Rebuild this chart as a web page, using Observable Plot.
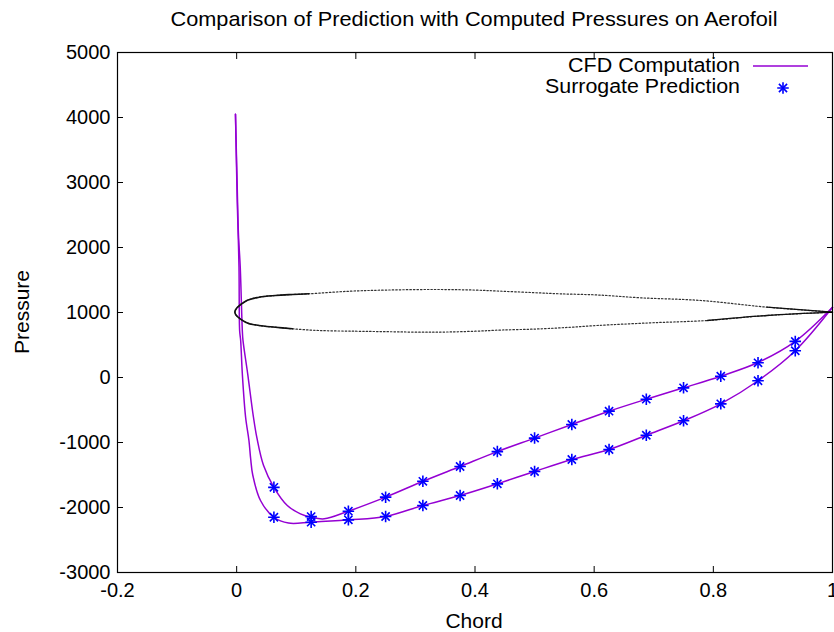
<!DOCTYPE html>
<html><head><meta charset="utf-8">
<script src="https://cdn.jsdelivr.net/npm/d3@7"></script>
<script src="https://cdn.jsdelivr.net/npm/@observablehq/plot@0.6"></script>
<style>
body{margin:0;background:#fff;font-family:"Liberation Sans",Arial,sans-serif;}
#wrap{position:relative;width:834px;height:632px;overflow:hidden;}
#wrap svg{position:absolute;left:0;top:0;}
</style></head><body><div id="wrap"></div>
<script>
// ---- data ----
const titleText = "Comparison of Prediction with Computed Pressures on Aerofoil";
const xLabel = "Chord";
const yLabel = "Pressure";
const seriesNames = ["CFD Computation", "Surrogate Prediction"];
const xTicks = [-0.2, 0, 0.2, 0.4, 0.6, 0.8, 1];
const yTicks = [-3000, -2000, -1000, 0, 1000, 2000, 3000, 4000, 5000];

// CFD pressure distribution, branch A (upper curve in the plot)
const cfdAX = [-0.002, 0.001, 0.003, 0.006, 0.0095, 0.0106, 0.0185, 0.028, 0.034, 0.045, 0.0625, 0.085, 0.107, 0.125, 0.147, 0.1875, 0.25, 0.3125, 0.375, 0.4375, 0.5, 0.5625, 0.625, 0.6875, 0.75, 0.8125, 0.875, 0.9375, 1.0];
const cfdAP = [4050, 2900, 2200, 1700, 720, 570, 57, -600, -930, -1350, -1690, -1970, -2097, -2150, -2174, -2057, -1841, -1597, -1369, -1140, -932, -723, -518, -334, -159, 20, 230, 555, 1080];
// CFD pressure distribution, branch B (lower curve in the plot)
const cfdBX = [-0.002, 0.001, 0.0039, 0.005, 0.0067, 0.0095, 0.015, 0.0206, 0.0235, 0.027, 0.04, 0.0625, 0.087, 0.125, 0.1875, 0.25, 0.3125, 0.375, 0.4375, 0.5, 0.5625, 0.625, 0.6875, 0.75, 0.8125, 0.875, 0.9375, 1.0];
const cfdBP = [4050, 2700, 1700, 720, 570, 57, -611, -969, -1250, -1500, -1892, -2150, -2240, -2226, -2190, -2138, -1969, -1815, -1636, -1446, -1262, -1108, -888, -666, -405, -50, 412, 1080];

// Surrogate predictions
const surrX = [0.0625, 0.125, 0.1875, 0.25, 0.3125, 0.375, 0.4375, 0.5, 0.5625, 0.625, 0.6875, 0.75, 0.8125, 0.875, 0.9375];
const surrAP = [-1690, -2140, -2057, -1841, -1597, -1369, -1140, -932, -723, -518, -334, -159, 20, 226, 555];
const surrBP = [-2150, -2226, -2190, -2138, -1969, -1815, -1636, -1446, -1262, -1108, -888, -666, -405, -50, 412];

// Aerofoil outline (drawn in pressure units)
const foilUpperX = [-0.003, 0.015, 0.0375, 0.065, 0.0935, 0.121, 0.191, 0.25, 0.33, 0.4, 0.443, 0.5, 0.544, 0.605, 0.678, 0.779, 0.89, 1.0];
const foilUpperP = [1005, 1174, 1235, 1262, 1277, 1288, 1328, 1345, 1354, 1345, 1328, 1305, 1287, 1270, 1226, 1185, 1082, 1005];
const foilLowerX = [0.015, 0.0375, 0.065, 0.0935, 0.138, 0.2, 0.25, 0.33, 0.4, 0.443, 0.5, 0.555, 0.605, 0.695, 0.79, 0.89, 1.0];
const foilLowerP = [851, 800, 774, 749, 723, 712, 705, 697, 712, 730, 745, 770, 800, 841, 877, 954, 1005];

// ---- tables ----
const cfd = [
  ...cfdAX.map((x, i) => ({x, p: cfdAP[i], b: "A"})),
  ...cfdBX.map((x, i) => ({x, p: cfdBP[i], b: "B"}))
];
const surr = [
  ...surrX.map((x, i) => ({x, p: surrAP[i]})),
  ...surrX.map((x, i) => ({x, p: surrBP[i]}))
];
const lowerRev = foilLowerX.map((x, i) => ({x, p: foilLowerP[i], s: "lower"})).reverse();
const upper = foilUpperX.map((x, i) => ({x, p: foilUpperP[i], s: "upper"}));
const foilLoop = [...lowerRev, ...upper];
const foilSurf = [...lowerRev, {x: foilUpperX[0], p: foilUpperP[0], s: "lower"}, ...upper];

const purple = "#9400d3";
const blue = "#0000ff";
const fontFam = "'Liberation Sans', Arial, sans-serif";
const starR = 3.8;

const chart = Plot.plot({
  width: 834, height: 632,
  marginTop: 52, marginBottom: 60, marginLeft: 117, marginRight: 2,
  x: {domain: [-0.2, 1]},
  y: {domain: [-3000, 5000]},
  style: {fontFamily: fontFam, fontSize: "20px", color: "#000", background: "transparent"},
  marks: [
    Plot.line(cfd, {x: "x", y: "p", z: "b", stroke: purple, strokeWidth: 1.5, curve: "catmull-rom"}),
    Plot.line(foilLoop, {x: "x", y: "p", stroke: "#333", strokeWidth: 1.2, strokeDasharray: "1.5 2", curve: "catmull-rom"}),
    Plot.line(foilLoop, {filter: d => d.x <= 0.13, x: "x", y: "p", stroke: "#111", strokeWidth: 1.6, curve: "catmull-rom"}),
    Plot.line(foilSurf, {filter: d => d.x >= 0.78, x: "x", y: "p", z: "s", stroke: "#111", strokeWidth: 1.3, curve: "catmull-rom"}),
    Plot.dot(surr, {x: "x", y: "p", symbol: "plus", r: starR, stroke: blue, strokeWidth: 1.6}),
    Plot.dot(surr, {x: "x", y: "p", symbol: "times", r: starR, stroke: blue, strokeWidth: 1.6}),
    Plot.frame({stroke: "#000", strokeWidth: 1.2}),
    Plot.axisX({anchor: "bottom", ticks: xTicks, tickSize: 6, dy: -6, tickPadding: 10, label: null, tickFormat: d => String(d), fontSize: 20}),
    Plot.axisX({anchor: "top", ticks: xTicks, tickSize: 6, dy: 6, label: null, tickFormat: () => ""}),
    Plot.axisY({anchor: "left", ticks: yTicks, tickSize: 6, dx: 6, tickPadding: 7, label: null, tickFormat: d => String(d), fontSize: 20}),
    Plot.axisY({anchor: "right", ticks: yTicks, tickSize: 6, dx: -6, label: null, tickFormat: () => ""})
  ]
});
const wrap = document.getElementById("wrap");
wrap.appendChild(chart);

// ---- title, axis labels and legend as an overlay ----
const ov = d3.select(wrap).append("svg").attr("width", 834).attr("height", 632)
  .style("font-family", fontFam).style("pointer-events", "none");
ov.append("text").attr("x", 474).attr("y", 18).attr("text-anchor", "middle").attr("dominant-baseline", "central")
  .attr("font-size", 21).attr("textLength", 607).attr("lengthAdjust", "spacingAndGlyphs").text(titleText);
ov.append("text").attr("x", 474).attr("y", 620).attr("text-anchor", "middle").attr("dominant-baseline", "central")
  .attr("font-size", 21).text(xLabel);
ov.append("text").attr("transform", "translate(21,312) rotate(-90)").attr("text-anchor", "middle").attr("dominant-baseline", "central")
  .attr("font-size", 21).text(yLabel);
// legend
ov.append("text").attr("x", 740).attr("y", 65).attr("text-anchor", "end").attr("dominant-baseline", "central")
  .attr("font-size", 19.5).attr("textLength", 172).attr("lengthAdjust", "spacingAndGlyphs").text(seriesNames[0]);
ov.append("text").attr("x", 740).attr("y", 85.5).attr("text-anchor", "end").attr("dominant-baseline", "central")
  .attr("font-size", 19.5).attr("textLength", 195).attr("lengthAdjust", "spacingAndGlyphs").text(seriesNames[1]);
ov.append("line").attr("x1", 753).attr("x2", 808).attr("y1", 66).attr("y2", 66).attr("stroke", purple).attr("stroke-width", 1.6);
const sym = (t) => d3.symbol(t, starR * starR * Math.PI)();
ov.append("path").attr("transform", "translate(783,88)").attr("d", sym(d3.symbolPlus)).attr("fill", "none").attr("stroke", blue).attr("stroke-width", 1.6);
ov.append("path").attr("transform", "translate(783,88)").attr("d", sym(d3.symbolTimes)).attr("fill", "none").attr("stroke", blue).attr("stroke-width", 1.6);
</script></body></html>
